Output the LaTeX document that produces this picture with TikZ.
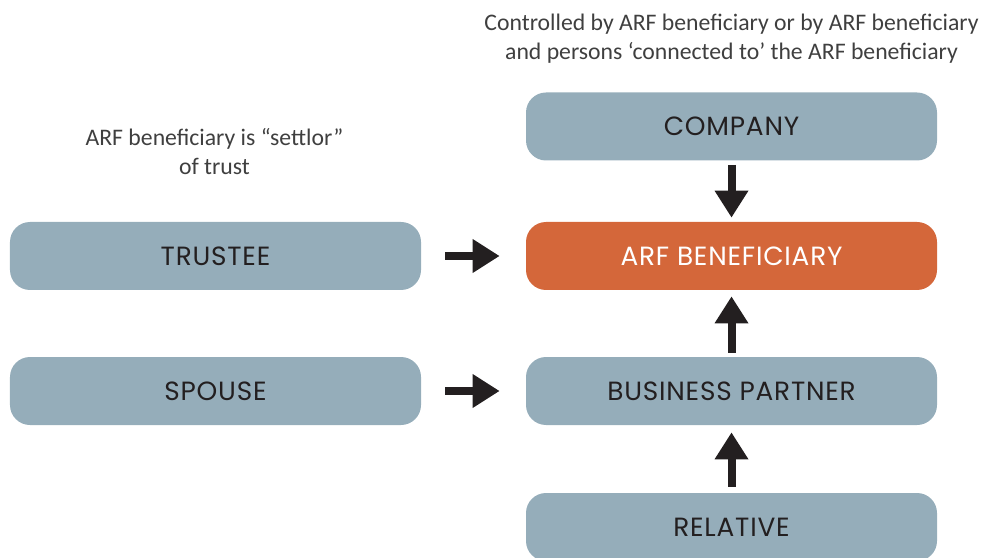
\documentclass[tikz,border=0pt]{standalone}
\usepackage{fontspec}
\setmainfont{Carlito}
\newfontfamily\labelfont[LetterSpace=3]{Poppins}
\usetikzlibrary{arrows.meta, positioning}
\definecolor{cslate}{HTML}{95ADBA}
\definecolor{corange}{HTML}{D4673A}
\definecolor{cink}{HTML}{231F20}
\definecolor{cnote}{HTML}{3F3F3F}
\tikzset{
  box/.style={fill=#1, rounded corners=0.4cm, minimum width=8.22cm, minimum height=1.36cm,
    inner sep=0pt, text=cink, font=\labelfont\fontsize{15}{17}\selectfont},
  box/.default=cslate,
  arrow/.style={-{Triangle[width=0.64cm, length=0.54cm]}, draw=cink, line width=0.16cm},
  note/.style={font=\fontsize{13.5}{16.5}\selectfont, text=cnote, align=center},
}

\begin{document}
\begin{tikzpicture}
  \useasboundingbox (0,0) rectangle (19.64,11.14);
  % right column: company above, partner and relative below
  \node[box] (company) at (14.63,8.61) {COMPANY};
  \node[box=corange, text=white] (arf) at (14.63,6.02) {ARF BENEFICIARY};
  \node[box] (partner) at (14.63,3.32) {BUSINESS PARTNER};
  \node[box] (relative) at (14.63,0.6) {RELATIVE};
  % left column
  \node[box] (trustee) at (4.31,6.02) {TRUSTEE};
  \node[box] (spouse) at (4.31,3.32) {SPOUSE};
  % notes
  \node[note] (ctrl) at (14.63,10.36) {Controlled by ARF beneficiary or by ARF beneficiary\\and persons `connected to' the ARF beneficiary};
  \node[note] (settlor) at (4.29,8.11) {ARF beneficiary is ``settlor''\\of trust};
  % arrows into the beneficiary
  \draw[arrow, shorten <=0.08cm, shorten >=0.08cm] (company) -- (arf);
  \draw[arrow, shorten <=0.08cm, shorten >=0.12cm] (partner) -- (arf);
  \draw[arrow, shorten <=0.12cm, shorten >=0.14cm] (relative) -- (partner);
  \draw[arrow, shorten <=0.48cm, shorten >=0.52cm] (trustee.east) -- (arf.west |- trustee.east);
  \draw[arrow, shorten <=0.48cm, shorten >=0.52cm] (spouse.east) -- (partner.west);
\end{tikzpicture}
\end{document}
